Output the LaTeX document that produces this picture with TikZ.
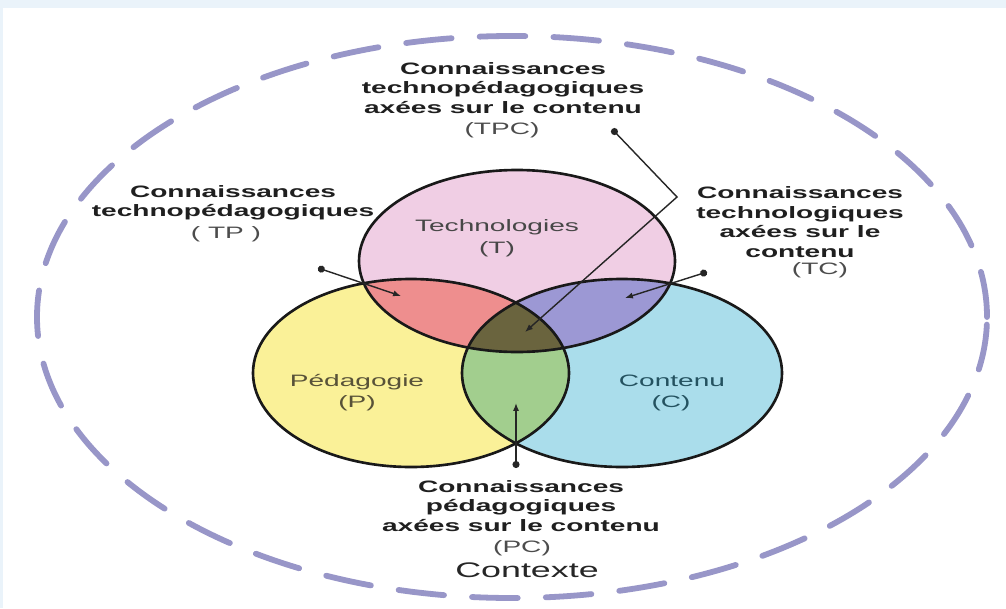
\documentclass[tikz,border=0pt]{standalone}
\usepackage{fontspec}
\setmainfont{Liberation Sans}
\usepackage{graphicx}
\usetikzlibrary{arrows.meta}
\definecolor{tpink}{RGB}{240,206,228}
\definecolor{pyellow}{RGB}{250,241,152}
\definecolor{cblue}{RGB}{170,221,235}
\definecolor{tpred}{RGB}{238,142,142}
\definecolor{tcpurple}{RGB}{156,152,212}
\definecolor{pcgreen}{RGB}{162,206,142}
\definecolor{tpcolive}{RGB}{106,100,62}
\definecolor{ctxlav}{RGB}{152,150,200}
\definecolor{pbrown}{RGB}{88,82,56}
\definecolor{cteal}{RGB}{36,82,96}
\definecolor{panelbg}{RGB}{234,243,250}

% the source picture is stretched sideways, so is the text
\newcommand{\wide}[1]{\scalebox{1.7}[1]{\begin{tabular}{@{}c@{}}#1\end{tabular}}}
\newcommand{\Tarea}{(517,-261) ellipse [x radius=158, y radius=91]}
\newcommand{\Parea}{(411,-373) ellipse [x radius=158, y radius=94]}
\newcommand{\Carea}{(622,-373) ellipse [x radius=160, y radius=94]}

\tikzset{
  lbl/.style={font=\fontsize{9.4}{11.2}\selectfont\bfseries, text=black!88, inner sep=0pt},
  code/.style={font=\fontsize{9.4}{11.2}\selectfont, text=black!70, inner sep=0pt},
  pointer/.style={black!85, line width=0.8pt, {Circle[length=4pt]}-{Latex[length=4.5pt,width=3.5pt]}},
  rim/.style={line width=1.5pt, black!90},
}

\begin{document}
\begin{tikzpicture}[x=0.02cm, y=0.02cm]
  \useasboundingbox (0,0) rectangle (1006,-608);
  \fill[panelbg] (0,0) rectangle (1006,-608);
  \fill[white] (3,-8) rectangle (1006,-608);

  % context
  \draw[ctxlav, line width=3.3pt, line cap=round, dash pattern=on 26pt off 16pt]
    (512,-317) ellipse [x radius=475, y radius=281];

  % three sets and their overlaps
  \fill[tpink] \Tarea;
  \fill[pyellow] \Parea;
  \fill[cblue] \Carea;
  \begin{scope}
    \clip \Tarea;
    \fill[tpred] \Parea;
    \fill[tcpurple] \Carea;
  \end{scope}
  \begin{scope}
    \clip \Parea;
    \fill[pcgreen] \Carea;
    \clip \Carea;
    \fill[tpcolive] \Tarea;
  \end{scope}
  \draw[rim] \Tarea;
  \draw[rim] \Parea;
  \draw[rim] \Carea;

  \node[code, text=black!72] (tname) at (497,-228) {\wide{Technologies}};
  \node[code, text=black!72] (tcode) at (497,-250) {\wide{(T)}};
  \node[code, text=pbrown] (pname) at (357,-383) {\wide{Pédagogie}};
  \node[code, text=pbrown] (pcode) at (357,-404) {\wide{(P)}};
  \node[code, text=cteal] (cname) at (672,-383) {\wide{Contenu}};
  \node[code, text=cteal] (ccode) at (671,-404) {\wide{(C)}};

  % labels
  \node[lbl] (tpc) at (503,-90) {\wide{Connaissances\\technopédagogiques\\axées sur le contenu}};
  \node[code] (tpccode) at (502,-131) {\wide{(TPC)}};
  \node[lbl] (tp) at (233,-203) {\wide{Connaissances\\technopédagogiques}};
  \node[code] (tpcode) at (226,-235) {\wide{( TP )}};
  \node[lbl] (tc) at (800,-224) {\wide{Connaissances\\technologiques\\axées sur le\\contenu}};
  \node[code] (tccode) at (820,-271) {\wide{(TC)}};
  \node[lbl] (pc) at (521,-508) {\wide{Connaissances\\pédagogiques\\axées sur le contenu}};
  \node[code] (pccode) at (522,-549) {\wide{(PC)}};
  \node[code, font=\fontsize{12}{14}\selectfont, text=black!85] (ctx) at (527,-573) {\wide{Contexte}};

  % pointers
  \coordinate (tpcdot) at (612,-129);
  \coordinate (tpcbend) at (677,-197);
  \coordinate (tpctip) at (525,-332);
  \coordinate (tpdot) at (318,-268);
  \coordinate (tptip) at (401,-296);
  \coordinate (tcdot) at (707,-272);
  \coordinate (tctip) at (625,-298);
  \coordinate (pcdot) at (516,-468);
  \coordinate (pctip) at (516,-403);
  \draw[pointer] (tpcdot) -- (tpcbend) -- (tpctip);
  \draw[pointer] (tpdot) -- (tptip);
  \draw[pointer] (tcdot) -- (tctip);
  \draw[pointer] (pcdot) -- (pctip);
\end{tikzpicture}
\end{document}
